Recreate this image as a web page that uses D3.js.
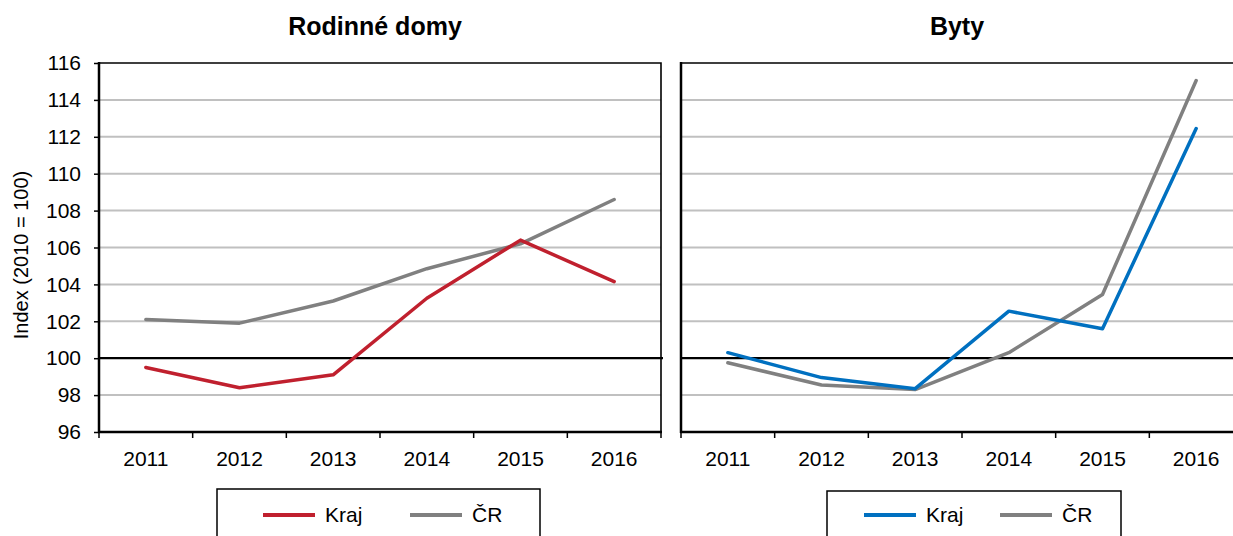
<!DOCTYPE html>
<html>
<head>
<meta charset="utf-8">
<script src="https://cdn.jsdelivr.net/npm/d3@7"></script>
<style>
  body { margin: 0; background: #fff; }
  svg { display: block; font-family: Arial, "Liberation Sans", sans-serif; }
</style>
</head>
<body>
<div id="chart"></div>
<script>
// data
var years = [2011, 2012, 2013, 2014, 2015, 2016];
var yTicks = [96, 98, 100, 102, 104, 106, 108, 110, 112, 114, 116];
var domyKraj = [99.5, 98.4, 99.1, 103.25, 106.4, 104.15];
var domyCR = [102.1, 101.9, 103.1, 104.85, 106.2, 108.6];
var bytyKraj = [100.3, 98.95, 98.35, 102.55, 101.6, 112.45];
var bytyCR = [99.75, 98.55, 98.3, 100.3, 103.45, 115.05];
var seriesNames = ["Kraj", "ČR"];

var W = 1233, H = 536;
var plotTop = 63, plotBottom = 432, plotW = 562;
var fontSize = 21;

var svg = d3.select("#chart").append("svg")
	.attr("width", W)
	.attr("height", H);

var y = d3.scaleLinear().domain([96, 116]).range([plotBottom, plotTop]);

function panel(opts) {
	var x = d3.scaleBand().domain(years).range([opts.x0, opts.x0 + plotW]).padding(0);
	var g = svg.append("g");

	// gridlines
	g.selectAll("line.grid")
		.data(yTicks.filter(function (d) { return d != 96 && d != 116 && d != 100; }))
		.enter().append("line")
		.attr("x1", opts.x0).attr("x2", opts.x0 + plotW)
		.attr("y1", function (d) { return y(d); })
		.attr("y2", function (d) { return y(d); })
		.attr("stroke", "#c0c0c0")
		.attr("stroke-width", 2);

	// frame top + right
	g.append("path")
		.attr("d", "M" + opts.x0 + "," + plotTop + "H" + (opts.x0 + plotW) + "V" + plotBottom)
		.attr("fill", "none")
		.attr("stroke", "#000")
		.attr("stroke-width", 1.6);

	// y axis
	var ya = d3.axisLeft(y).tickValues(yTicks).tickSize(opts.labels ? 5 : 0).tickPadding(13);
	if (!opts.labels) ya.tickFormat("");
	var yg = g.append("g").attr("transform", "translate(" + opts.x0 + ",0)").call(ya);
	yg.select(".domain").remove();
	yg.selectAll("line").attr("stroke-width", 1.5);
	yg.selectAll("text").attr("font-size", fontSize).attr("fill", "#000")
		.attr("font-family", "Arial, 'Liberation Sans', sans-serif");
	g.append("line")
		.attr("x1", opts.x0).attr("x2", opts.x0)
		.attr("y1", plotTop - 1).attr("y2", plotBottom + 1)
		.attr("stroke", "#000").attr("stroke-width", 2.5);

	// x axis labels
	var xg = g.append("g").attr("transform", "translate(0," + plotBottom + ")")
		.call(d3.axisBottom(x).tickSize(0).tickPadding(19));
	xg.select(".domain").remove();
	xg.selectAll("text").attr("font-size", fontSize).attr("fill", "#000")
		.attr("font-family", "Arial, 'Liberation Sans', sans-serif");

	// boundary ticks
	var edges = years.map(function (d) { return x(d); }).concat([x(years[years.length - 1]) + x.bandwidth()]);
	g.selectAll("line.xt").data(edges).enter().append("line")
		.attr("x1", function (d) { return d; }).attr("x2", function (d) { return d; })
		.attr("y1", plotBottom).attr("y2", plotBottom + 6)
		.attr("stroke", "#000").attr("stroke-width", 1.5);

	g.append("line")
		.attr("x1", opts.x0 - 1).attr("x2", opts.x0 + plotW + 1)
		.attr("y1", plotBottom).attr("y2", plotBottom)
		.attr("stroke", "#000").attr("stroke-width", 2.5);

	// 100 line
	g.append("line")
		.attr("x1", opts.x0).attr("x2", opts.x0 + plotW + 2)
		.attr("y1", y(100)).attr("y2", y(100))
		.attr("stroke", "#000").attr("stroke-width", 2.2);

	var line = d3.line()
		.x(function (d, i) { return x(years[i]) + x.bandwidth() / 2; })
		.y(function (d) { return y(d); });

	g.append("path").datum(opts.cr)
		.attr("d", line).attr("fill", "none")
		.attr("stroke", "#808080").attr("stroke-width", 3.5)
		.attr("stroke-linejoin", "round").attr("stroke-linecap", "round");
	g.append("path").datum(opts.kraj)
		.attr("d", line).attr("fill", "none")
		.attr("stroke", opts.color).attr("stroke-width", 3.5)
		.attr("stroke-linejoin", "round").attr("stroke-linecap", "round");

	// title
	svg.append("text")
		.attr("x", opts.x0 + plotW / 2 - 5).attr("y", 35)
		.attr("text-anchor", "middle")
		.attr("font-size", 25).attr("font-weight", "bold")
		.text(opts.title);

	// legend
	var lg = svg.append("g");
	lg.append("rect")
		.attr("x", opts.lx).attr("y", opts.ly)
		.attr("width", opts.lw).attr("height", 70)
		.attr("fill", "#fff").attr("stroke", "#000").attr("stroke-width", 1.5);
	var colors = [opts.color, "#808080"];
	seriesNames.forEach(function (name, i) {
		var sx = opts.items[i];
		lg.append("line")
			.attr("x1", sx).attr("x2", sx + 52)
			.attr("y1", 515).attr("y2", 515)
			.attr("stroke", colors[i]).attr("stroke-width", 4);
		lg.append("text")
			.attr("x", sx + 62).attr("y", 522)
			.attr("font-size", fontSize)
			.text(name);
	});
}

panel({ x0: 99, labels: true, kraj: domyKraj, cr: domyCR, color: "#c0202e",
	title: "Rodinné domy", lx: 217, ly: 489, lw: 323, items: [263, 410] });
panel({ x0: 681, labels: false, kraj: bytyKraj, cr: bytyCR, color: "#0070c0",
	title: "Byty", lx: 827, ly: 491, lw: 294, items: [864, 1000] });

// y axis title
svg.append("text")
	.attr("transform", "translate(28,255) rotate(-90)")
	.attr("text-anchor", "middle")
	.attr("font-size", 20)
	.text("Index (2010 = 100)");
</script>
</body>
</html>
